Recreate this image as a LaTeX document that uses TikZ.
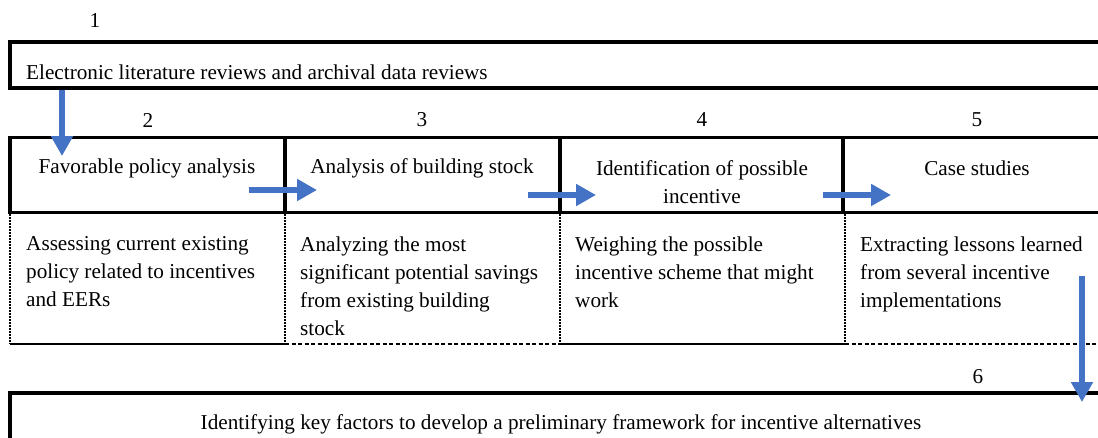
\documentclass[tikz,border=0pt]{standalone}
\usepackage{fontspec}
\setmainfont{Liberation Serif}
\usetikzlibrary{arrows.meta}
\definecolor{flowblue}{HTML}{4472C4}
\begin{document}
\begin{tikzpicture}[x=1pt,y=-1pt,
  every node/.style={inner sep=0pt, font=\fontsize{21.2}{28}\selectfont},
  heavyrule/.style={line width=3.5pt, line cap=rect},
  cellrule/.style={line width=1.4pt},
  dotrule/.style={line width=1.2pt, dash pattern=on 2pt off 1pt},
  dashrule/.style={line width=1.4pt, dash pattern=on 4pt off 2.5pt},
  steptext/.style={align=center},
  notetext/.style={align=left, anchor=north west},
  blockarrow/.style={draw=flowblue, line width=6pt,
    -{Triangle[width=21pt,length=20pt]}}]
\useasboundingbox (0,0) rectangle (1098,437);
\clip (0,0) rectangle (1098,437);

% step 1: literature and data reviews
\node (n1) at (95,20) {1};
\draw[heavyrule] (10,42) rectangle (1120,88);
\node[anchor=west] (s1) at (26,72) {Electronic literature reviews and archival data reviews};

% steps 2 to 5: header row
\node (n2) at (148,120) {2};
\node (n3) at (422,120) {3};
\node (n4) at (702,120) {4};
\node (n5) at (977,120) {5};
\draw[heavyrule] (10,137.5) rectangle (1120,212.5);
\foreach \xx in {285,560,843}
  \draw[heavyrule] (\xx,137.5) -- (\xx,212.5);
\node[steptext] (s2) at (147,168) {Favorable policy analysis};
\node[steptext] (s3) at (422,168) {Analysis of building stock};
\node[steptext] (s4) at (702,182.5) {Identification of possible\\incentive};
\node[steptext] (s5) at (977,168) {Case studies};

% steps 2 to 5: description row
\foreach \xx in {10,285,560,845}
  \draw[dotrule] (\xx,214) -- (\xx,344);
\draw[cellrule] (10,344) -- (285,344);
\draw[dashrule] (285,344) -- (560,344);
\draw[cellrule] (560,344) -- (845,344);
\draw[dashrule] (845,344) -- (1098,344);
\node[notetext] (d2) at (26,236.5) {Assessing current existing\\policy related to incentives\\and EERs};
\node[notetext] (d3) at (300,236.5) {Analyzing the most\\significant potential savings\\from existing building\\stock};
\node[notetext] (d4) at (575,236.5) {Weighing the possible\\incentive scheme that might\\work};
\node[notetext] (d5) at (860,236.5) {Extracting lessons learned\\from several incentive\\implementations};

% step 6: framework
\node (n6) at (978,377) {6};
\draw[heavyrule] (10,450) -- (10,393) -- (1120,393);
\node (s6) at (561,424) {Identifying key factors to develop a preliminary framework for incentive alternatives};

% flow arrows
\coordinate (a1s) at (62,90);   \coordinate (a1e) at (62,156);
\coordinate (a2s) at (249,190); \coordinate (a2e) at (317,190);
\coordinate (a3s) at (528,195); \coordinate (a3e) at (596,195);
\coordinate (a4s) at (823,195); \coordinate (a4e) at (891,195);
\coordinate (a5s) at (1082,276); \coordinate (a5e) at (1082,402);
\draw[blockarrow] (a1s) -- (a1e);
\draw[blockarrow] (a2s) -- (a2e);
\draw[blockarrow] (a3s) -- (a3e);
\draw[blockarrow] (a4s) -- (a4e);
\draw[blockarrow] (a5s) -- (a5e);
\end{tikzpicture}
\end{document}
